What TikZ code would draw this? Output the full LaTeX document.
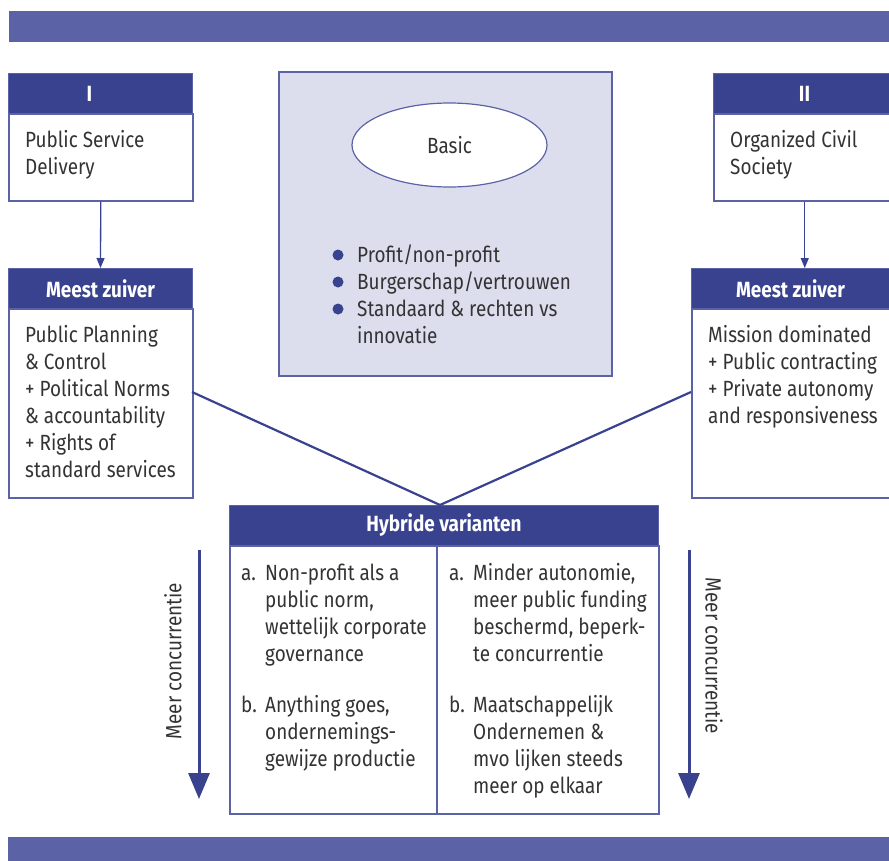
\documentclass[tikz,border=0pt]{standalone}
\usepackage{fontspec}
\setmainfont[FakeStretch=0.86]{Fira Sans}
\usetikzlibrary{arrows.meta,shapes.geometric}
\definecolor{barc}{HTML}{5B62A6}
\definecolor{hdrc}{HTML}{39428F}
\definecolor{edgec}{HTML}{5B62A6}
\definecolor{palec}{HTML}{DCDEEE}
\definecolor{inkc}{HTML}{333333}
\begin{document}
\begin{tikzpicture}[x=1pt,y=-1pt,
  barbox/.style={fill=barc, draw=none, anchor=north west, inner sep=0},
  hdrbox/.style={fill=hdrc, draw=edgec, line width=1pt, anchor=north west, inner sep=0, text=white, font=\fontsize{22}{27}\selectfont\bfseries},
  bodybox/.style={fill=white, draw=edgec, line width=1.5pt, anchor=north west, inner sep=0},
  txt/.style={anchor=base west, inner sep=0, align=left, text=inkc, font=\fontsize{22}{27}\selectfont},
  smallarrow/.style={draw=hdrc, line width=1.3pt, -{Triangle[width=8pt,length=10pt]}},
  bigarrow/.style={draw=hdrc, line width=3pt, -{Triangle[width=21pt,length=26pt]}},
  joinline/.style={draw=hdrc, line width=2.2pt},
  bullet/.style={circle, fill=hdrc, inner sep=0, minimum size=11pt}
]
\clip (0,0) rectangle (889,860);
% bars
\node[barbox, minimum width=890, minimum height=31] (topbar) at (9,11) {};
\node[barbox, minimum width=890, minimum height=30] (botbar) at (8,837) {};
% Box I
\node[hdrbox, minimum width=184, minimum height=40] (h1) at (8,73) {\hspace*{-22pt}I};
\node[bodybox, minimum width=184, minimum height=87] (b1) at (8,113) {};
\node[txt] (t1) at (25,174) {Public Service\\Delivery};
% Meest zuiver left
\node[hdrbox, minimum width=184, minimum height=40] (mzlh) at (8,268) {Meest zuiver};
\node[bodybox, minimum width=184, minimum height=189] (mzlb) at (8,308) {};
\node[txt] (tmzl) at (25,477) {Public Planning\\\& Control\\+ Political Norms\\\& accountability\\+ Rights of\\standard services};
\draw[smallarrow] (b1.south) -- (mzlh.north);
% Box II
\node[hdrbox, minimum width=182, minimum height=40] (h2) at (713,73) {II};
\node[bodybox, minimum width=182, minimum height=87] (b2) at (713,113) {};
\node[txt] (t2) at (730,174) {Organized Civil\\Society};
% Meest zuiver right
\node[hdrbox, minimum width=198, minimum height=40] (mzrh) at (691,268) {Meest zuiver};
\node[bodybox, minimum width=204, minimum height=189] (mzrb) at (691,308) {};
\node[txt] (tmzr) at (708,423) {Mission dominated\\+ Public contracting\\+ Private autonomy\\and responsiveness};
\draw[smallarrow] (b2.south) -- (b2.south |- mzrh.north);
% Centre box
\node[fill=palec, draw=edgec, line width=1.5pt, anchor=north west, inner sep=0, minimum width=333, minimum height=304] (basicbox) at (278,71) {};
\node[ellipse, draw=edgec, line width=1.2pt, fill=white, minimum width=195, minimum height=84, text=inkc, font=\fontsize{22}{27}\selectfont] (basic) at (449.5,145) {Basic};
\node[bullet] (d1) at (338,255) {};
\node[bullet] (d2) at (338,282) {};
\node[bullet] (d3) at (338,309) {};
\node[txt] (tb1) at (357,343) {Profit/non-profit\\Burgerschap/vertrouwen\\Standaard \& rechten vs\\innovatie};
% Hybride box
\node[hdrbox, minimum width=429, minimum height=40] (hyh) at (229,505) {Hybride varianten};
\node[bodybox, minimum width=429, minimum height=268] (hyb) at (229,545) {};
\draw[edgec, line width=1.5pt] (437,545) -- (437,813);
\node[txt] (la) at (241,580) {a.};
\node[txt] (lat) at (265,661) {Non-profit als a\\public norm,\\wettelijk corporate\\governance};
\node[txt] (lb) at (241,712) {b.};
\node[txt] (lbt) at (265,766) {Anything goes,\\ondernemings-\\gewijze productie};
\node[txt] (ra) at (449,580) {a.};
\node[txt] (rat) at (473,661) {Minder autonomie,\\meer public funding\\beschermd, beperk-\\te concurrentie};
\node[txt] (rb) at (449,712) {b.};
\node[txt] (rbt) at (473,793) {Maatschappelijk\\Ondernemen \&\\mvo lijken steeds\\meer op elkaar};
% joins
\coordinate (jl) at (192,392);
\coordinate (jr) at (691,392);
\coordinate (meet) at (440,505);
\draw[joinline] (jl) -- (meet) -- (jr);
% side arrows
\coordinate (al1) at (199,550);
\coordinate (al2) at (199,799);
\coordinate (ar1) at (689,550);
\coordinate (ar2) at (689,799);
\draw[bigarrow] (al1) -- (al2);
\draw[bigarrow] (ar1) -- (ar2);
\node[rotate=90, inner sep=0, text=inkc, font=\fontsize{22}{27}\selectfont] (ml) at (173,661) {Meer concurrentie};
\node[rotate=-90, inner sep=0, text=inkc, font=\fontsize{22}{27}\selectfont] (mr) at (714,656) {Meer concurrentie};
\end{tikzpicture}
\end{document}
